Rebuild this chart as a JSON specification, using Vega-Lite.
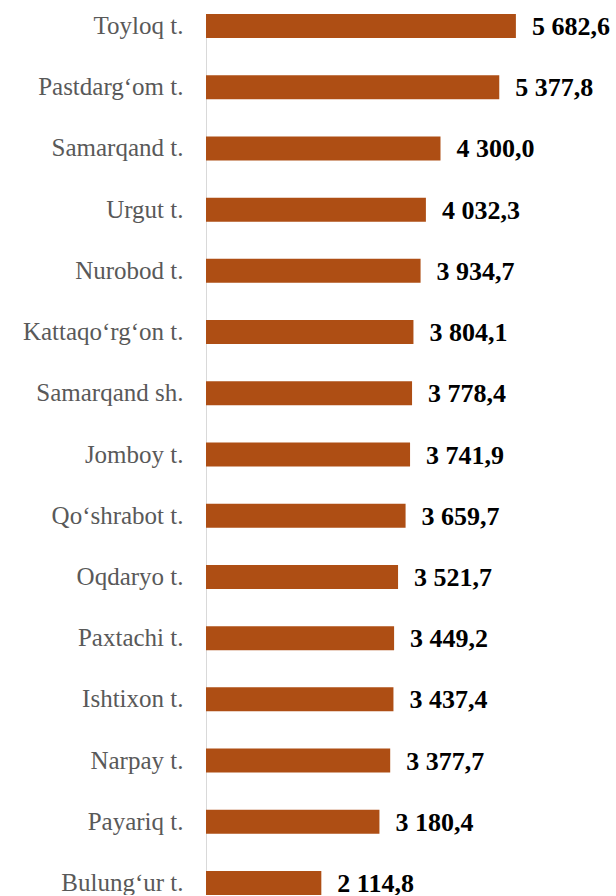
{
  "$schema": "https://vega.github.io/schema/vega-lite/v6.json",
  "width": 409,
  "height": 881,
  "autosize": {"type": "none"},
  "padding": {"left": 206, "top": 14, "right": 0, "bottom": 0},
  "background": "white",
  "config": {
    "view": {"stroke": null},
    "locale": {"number": {"decimal": ",", "thousands": " ", "grouping": [3], "currency": ["", ""]}}
  },
  "data": {
    "values": [
      {"district": "Toyloq t.", "value": 5682.6},
      {"district": "Pastdarg‘om t.", "value": 5377.8},
      {"district": "Samarqand t.", "value": 4300.0},
      {"district": "Urgut t.", "value": 4032.3},
      {"district": "Nurobod t.", "value": 3934.7},
      {"district": "Kattaqo‘rg‘on t.", "value": 3804.1},
      {"district": "Samarqand sh.", "value": 3778.4},
      {"district": "Jomboy t.", "value": 3741.9},
      {"district": "Qo‘shrabot t.", "value": 3659.7},
      {"district": "Oqdaryo t.", "value": 3521.7},
      {"district": "Paxtachi t.", "value": 3449.2},
      {"district": "Ishtixon t.", "value": 3437.4},
      {"district": "Narpay t.", "value": 3377.7},
      {"district": "Payariq t.", "value": 3180.4},
      {"district": "Bulung‘ur t.", "value": 2114.8}
    ]
  },
  "encoding": {
    "y": {
      "field": "district", "type": "nominal", "sort": null,
      "scale": {"paddingInner": 0.608, "paddingOuter": 0},
      "axis": {
        "title": null, "ticks": false, "domainColor": "#d9d9d9", "domainWidth": 1,
        "labelFont": "Liberation Serif", "labelFontSize": 25, "labelColor": "#595959",
        "labelPadding": 23, "labelLimit": 300
      }
    },
    "x": {
      "field": "value", "type": "quantitative",
      "scale": {"domain": [0, 7500], "nice": false},
      "axis": null
    }
  },
  "layer": [
    {"mark": {"type": "bar", "color": "#AE4E14"}},
    {
      "mark": {"type": "text", "align": "left", "baseline": "middle", "dx": 16, "dy": 1,
               "font": "Liberation Serif", "fontSize": 26, "fontWeight": "bold", "color": "#000000"},
      "encoding": {"text": {"field": "value", "type": "quantitative", "format": ",.1f"}}
    }
  ]
}
